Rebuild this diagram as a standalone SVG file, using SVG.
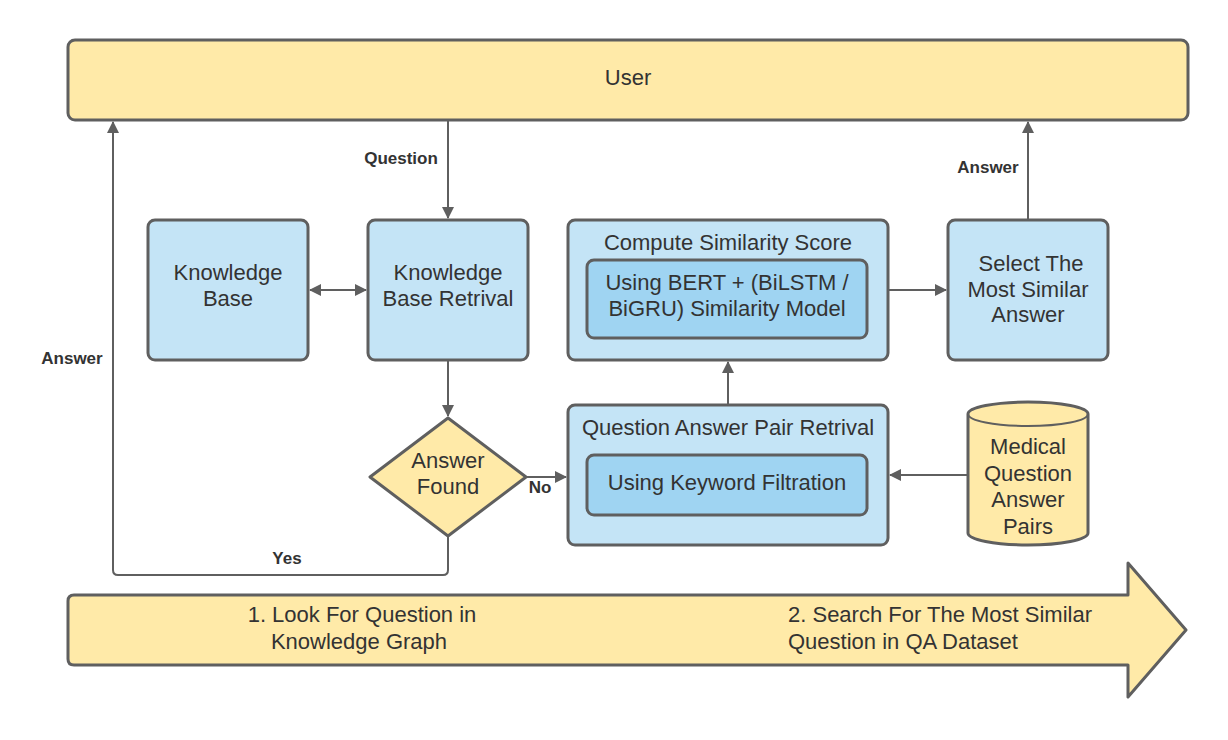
<svg xmlns="http://www.w3.org/2000/svg" width="1228" height="740" viewBox="0 0 1228 740">
<defs>
<style>
.box{fill:#c4e4f6;stroke:#5f5f5f;stroke-width:3}
.inner{fill:#9fd4f2;stroke:#5f5f5f;stroke-width:3}
.yel{fill:#ffeaa8;stroke:#5f5f5f;stroke-width:3}
.t{font-family:"Liberation Sans",Arial,sans-serif;font-size:22px;fill:#333;text-anchor:middle}
.ts{font-family:"Liberation Sans",Arial,sans-serif;font-size:22px;fill:#333;text-anchor:start}
.lbl{font-family:"Liberation Sans",Arial,sans-serif;font-size:17px;font-weight:bold;fill:#333;text-anchor:middle}
.c{fill:none;stroke:#5f5f5f;stroke-width:2}
</style>
<marker id="ah" viewBox="0 0 12 12" refX="11" refY="6" markerWidth="12" markerHeight="12" markerUnits="userSpaceOnUse" orient="auto-start-reverse">
<path d="M0,0 L12,6 L0,12 z" fill="#5f5f5f"/>
</marker>
</defs>
<rect width="1228" height="740" fill="#ffffff"/>

<g id="user">
<rect class="yel" x="68" y="40" width="1120" height="80" rx="7"/>
<text class="t" x="628" y="85">User</text>
</g>

<g id="knowledge-base">
<rect class="box" x="148" y="220" width="160" height="140" rx="7"/>
<text class="t" x="228" y="280">Knowledge</text>
<text class="t" x="228" y="306">Base</text>
</g>

<g id="kb-retrival">
<rect class="box" x="368" y="220" width="160" height="140" rx="7"/>
<text class="t" x="448" y="280">Knowledge</text>
<text class="t" x="448" y="306">Base Retrival</text>
</g>

<g id="compute">
<rect class="box" x="568" y="220" width="320" height="140" rx="7"/>
<text class="t" x="728" y="250">Compute Similarity Score</text>
<rect class="inner" x="587" y="260" width="280" height="78" rx="7"/>
<text class="t" x="727" y="290">Using BERT + (BiLSTM /</text>
<text class="t" x="727" y="316">BiGRU) Similarity Model</text>
</g>

<g id="select">
<rect class="box" x="948" y="220" width="160" height="140" rx="7"/>
<text class="t" x="1031" y="271">Select The</text>
<text class="t" x="1028" y="297">Most Similar</text>
<text class="t" x="1028" y="322">Answer</text>
</g>

<g id="answer-found">
<path class="yel" d="M448,418 L526,477 L448,536 L370,477 Z" stroke-linejoin="round"/>
<text class="t" x="448" y="468">Answer</text>
<text class="t" x="448" y="494">Found</text>
</g>

<g id="qa-retrival">
<rect class="box" x="568" y="405" width="320" height="140" rx="7"/>
<text class="t" x="728" y="435">Question Answer Pair Retrival</text>
<rect class="inner" x="587" y="455" width="280" height="60" rx="7"/>
<text class="t" x="727" y="490">Using Keyword Filtration</text>
</g>

<g id="medical-db">
<path class="yel" d="M968,414 L968,533 A60,12 0 0 0 1088,533 L1088,414 A60,12 0 0 0 968,414 Z"/>
<path class="c" stroke-width="3" d="M968,414 A60,12 0 0 0 1088,414"/>
<text class="t" x="1028" y="454">Medical</text>
<text class="t" x="1028" y="481">Question</text>
<text class="t" x="1028" y="507">Answer</text>
<text class="t" x="1028" y="534">Pairs</text>
</g>

<g id="stages">
<path class="yel" d="M74,595 L1128,595 L1128,563 L1186,630 L1128,697 L1128,665 L74,665 Q68,665 68,659 L68,601 Q68,595 74,595 Z" stroke-linejoin="round"/>
<text class="t" x="362" y="622">1. Look For Question in</text>
<text class="t" x="359" y="649">Knowledge Graph</text>
<text class="ts" x="788" y="622">2. Search For The Most Similar</text>
<text class="ts" x="788" y="649">Question in QA Dataset</text>
</g>

<g id="connectors">
<line class="c" x1="448" y1="121" x2="448" y2="218" marker-end="url(#ah)"/>
<line class="c" x1="310" y1="290" x2="366" y2="290" marker-start="url(#ah)" marker-end="url(#ah)"/>
<line class="c" x1="448" y1="361" x2="448" y2="416" marker-end="url(#ah)"/>
<line class="c" x1="527" y1="477" x2="566" y2="477" marker-end="url(#ah)"/>
<path class="c" d="M448,537 L448,570 Q448,575 443,575 L118,575 Q113,575 113,570 L113,122" marker-end="url(#ah)"/>
<line class="c" x1="728" y1="404" x2="728" y2="362" marker-end="url(#ah)"/>
<line class="c" x1="889" y1="290" x2="946" y2="290" marker-end="url(#ah)"/>
<line class="c" x1="1028" y1="219" x2="1028" y2="122" marker-end="url(#ah)"/>
<line class="c" x1="967" y1="475" x2="890" y2="475" marker-end="url(#ah)"/>
<text class="lbl" x="401" y="164">Question</text>
<text class="lbl" x="540" y="493">No</text>
<text class="lbl" x="287" y="564">Yes</text>
<text class="lbl" x="72" y="364">Answer</text>
<text class="lbl" x="988" y="173">Answer</text>
</g>
</svg>
